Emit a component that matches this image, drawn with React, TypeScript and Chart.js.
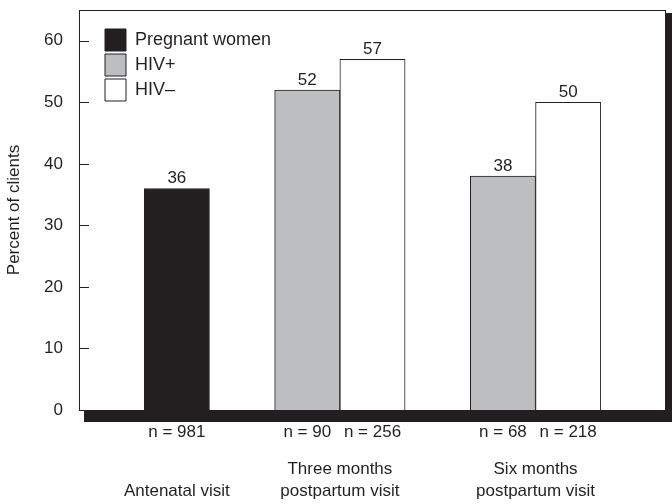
import React, { useEffect, useRef } from "react";
import { Chart, registerables } from "chart.js";

Chart.register(...registerables);

// ---- data ----
const visitLabels: string[][] = [
  ["", "Antenatal visit"],
  ["Three months", "postpartum visit"],
  ["Six months", "postpartum visit"],
];
const seriesNames = ["Pregnant women", "HIV+", "HIV\u2013"];
const pregnantWomen: (number | null)[] = [36, null, null];
const hivPositive: (number | null)[] = [null, 52, 38];
const hivNegative: (number | null)[] = [null, 57, 50];
const nPregnant: (number | null)[] = [981, null, null];
const nHivPositive: (number | null)[] = [null, 90, 68];
const nHivNegative: (number | null)[] = [null, 256, 218];
const yTicks = [0, 10, 20, 30, 40, 50, 60];
const yMax = 65;

// ---- styles ----
const INK = "#231f20";
const GREY = "#bcbec0";
const FONT = '"Liberation Sans", Arial, Helvetica, sans-serif';
const seriesColors = [INK, GREY, "#ffffff"];

// ---- build slot table (gap, bars of group, gap, ...) ----
const series = [pregnantWomen, hivPositive, hivNegative];
const ns = [nPregnant, nHivPositive, nHivNegative];
const slotValues: (number | null)[][] = series.map(() => []);
const slotN: string[] = [];
const groupCenters: number[] = [];
let slot = 0;
const addEmpty = () => {
  series.forEach((_, s) => slotValues[s].push(null));
  slotN.push("");
  slot++;
};
visitLabels.forEach((_, g) => {
  addEmpty();
  const start = slot;
  series.forEach((vals, s) => {
    if (vals[g] == null) return;
    series.forEach((_, t) => slotValues[t].push(t === s ? vals[g] : null));
    slotN.push(`n = ${ns[s][g]}`);
    slot++;
  });
  groupCenters.push((start + slot) / 2);
});
addEmpty();
const slotCount = slot;
const slotIds = slotN.map((_, i) => String(i));

const framePlugin = {
  id: "frame",
  afterLayout(chart: any) {
    const a = chart.chartArea;
    const lg = chart.legend;
    if (lg) {
      const w = lg.width;
      lg.left = a.left + 23;
      lg.right = lg.left + w;
      lg.top = a.top + 16;
      lg.bottom = a.bottom;
    }
  },
  beforeDraw(chart: any) {
    const { ctx, chartArea: a } = chart;
    ctx.save();
    ctx.fillStyle = INK;
    ctx.fillRect(a.left + 5, a.top + 3, a.right - a.left + 1, a.bottom - a.top + 3 + 6);
    ctx.fillStyle = "#ffffff";
    ctx.fillRect(a.left, a.top, a.right - a.left, a.bottom - a.top);
    ctx.strokeStyle = INK;
    ctx.lineWidth = 1;
    ctx.strokeRect(a.left + 0.5, a.top + 0.5, a.right - a.left - 1, a.bottom - a.top);
    ctx.restore();
  },
  afterDatasetsDraw(chart: any) {
    const { ctx, chartArea: a } = chart;
    const y = chart.scales.y;
    ctx.save();
    ctx.strokeStyle = INK;
    ctx.lineWidth = 1;
    y.ticks.forEach((t: any) => {
      const py = Math.round(y.getPixelForValue(t.value)) + 0.5;
      ctx.beginPath();
      ctx.moveTo(a.left, py);
      ctx.lineTo(a.left + 10, py);
      ctx.stroke();
    });
    ctx.fillStyle = INK;
    ctx.font = `17px ${FONT}`;
    ctx.textAlign = "center";
    ctx.textBaseline = "alphabetic";
    chart.data.datasets.forEach((ds: any, di: number) => {
      const meta = chart.getDatasetMeta(di);
      meta.data.forEach((el: any, i: number) => {
        const v = ds.data[i];
        if (v == null) return;
        ctx.fillText(String(v), el.x, el.y - 5);
      });
    });
    ctx.restore();
  },
};

export default function App() {
  const ref = useRef<HTMLCanvasElement | null>(null);
  useEffect(() => {
    if (!ref.current) return;
    Chart.defaults.font.family = FONT;
    Chart.defaults.color = INK;
    const chart = new Chart(ref.current, {
      type: "bar",
      data: {
        labels: slotIds,
        datasets: series.map((_, s) => ({
          label: seriesNames[s],
          data: slotValues[s],
          backgroundColor: seriesColors[s],
          borderColor: INK,
          borderWidth: 1,
          categoryPercentage: 1,
          barPercentage: 1,
          skipNull: true,
        })),
      },
      options: {
        animation: false,
        responsive: false,
        layout: { padding: { top: 10, right: 6, bottom: 0, left: 0 } },
        plugins: {
          legend: {
            position: "chartArea" as any,
            align: "start",
            labels: {
              boxWidth: 21,
              boxHeight: 22,
              padding: 3,
              color: INK,
              font: { size: 18 },
            },
          },
          tooltip: { enabled: false },
        },
        scales: {
          x: {
            type: "category",
            stacked: true,
            grid: { display: false, drawTicks: false },
            border: { display: false },
            ticks: {
              autoSkip: false,
              maxRotation: 0,
              padding: 12,
              color: INK,
              font: { size: 17 },
              callback: (_v: any, i: number) => slotN[i],
            },
            afterFit: (s: any) => {
              s.height = 36;
              s.paddingLeft = 0;
              s.paddingRight = 0;
            },
          },
          x2: {
            type: "linear",
            position: "bottom",
            offset: false,
            min: 0,
            max: slotCount,
            grid: { display: false, drawTicks: false, offset: false },
            border: { display: false },
            afterBuildTicks: (s: any) => {
              s.ticks = groupCenters.map((v) => ({ value: v }));
            },
            ticks: {
              autoSkip: false,
              maxRotation: 0,
              padding: 13,
              color: INK,
              font: { size: 17, lineHeight: 1.25 },
              callback: (_v: any, i: number) => visitLabels[i],
            },
            afterFit: (s: any) => {
              s.height = 58;
              s.paddingLeft = 0;
              s.paddingRight = 0;
            },
          },
          y: {
            min: 0,
            max: yMax,
            stacked: true,
            grid: { display: false, drawTicks: false },
            border: { display: false },
            afterBuildTicks: (s: any) => {
              s.ticks = yTicks.map((v) => ({ value: v }));
            },
            ticks: { padding: 16, color: INK, font: { size: 17 } },
            title: {
              display: true,
              text: "Percent of clients",
              color: INK,
              font: { size: 17 },
              padding: { top: 4, bottom: 0 },
            },
            afterFit: (s: any) => {
              s.width = 79;
              s.paddingTop = 0;
              s.paddingBottom = 0;
            },
          },
        },
      } as any,
      plugins: [framePlugin],
    });
    return () => chart.destroy();
  }, []);
  return (
    <div style={{ position: "absolute", left: 0, top: 0, width: 672, height: 504 }}>
      <canvas ref={ref} width={672} height={504} style={{ display: "block" }} />
    </div>
  );
}
